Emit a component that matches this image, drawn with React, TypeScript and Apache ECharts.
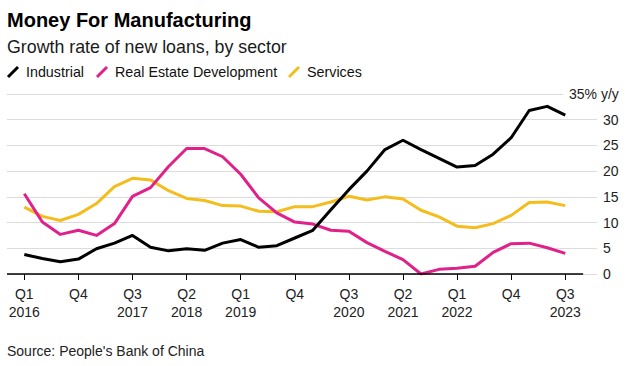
import React, { useEffect, useRef } from "react";
import * as echarts from "echarts";

const quarters = [
  "Q1 2016","Q2 2016","Q3 2016","Q4 2016","Q1 2017","Q2 2017","Q3 2017","Q4 2017",
  "Q1 2018","Q2 2018","Q3 2018","Q4 2018","Q1 2019","Q2 2019","Q3 2019","Q4 2019",
  "Q1 2020","Q2 2020","Q3 2020","Q4 2020","Q1 2021","Q2 2021","Q3 2021","Q4 2021",
  "Q1 2022","Q2 2022","Q3 2022","Q4 2022","Q1 2023","Q2 2023","Q3 2023",
];

const industrial = [3.8,3.0,2.4,2.9,4.9,6.0,7.5,5.2,4.5,4.9,4.6,6.0,6.7,5.2,5.5,7.0,8.5,12.5,16.4,20.0,24.2,26.0,24.2,22.5,20.8,21.1,23.3,26.5,31.8,32.6,30.9];
const realEstate = [15.6,10.1,7.7,8.5,7.5,9.8,15.1,16.8,20.9,24.4,24.4,22.8,19.4,14.8,11.9,10.1,9.7,8.5,8.3,6.1,4.4,2.8,0.0,0.9,1.1,1.5,4.2,5.9,6.0,5.1,4.0];
const services = [13.0,11.2,10.4,11.6,13.7,17.0,18.6,18.3,16.2,14.7,14.3,13.3,13.2,12.2,12.1,13.1,13.1,14.0,15.1,14.4,15.0,14.6,12.4,11.1,9.3,9.0,9.8,11.4,13.9,14.0,13.3];

const tickIndices = [0, 3, 6, 9, 12, 15, 18, 21, 24, 27, 30];
const tickLabels = ["Q1\n2016","Q4","Q3\n2017","Q2\n2018","Q1\n2019","Q4","Q3\n2020","Q2\n2021","Q1\n2022","Q4","Q3\n2023"];
const yTicks = [0, 5, 10, 15, 20, 25, 30, 35];

const seriesNames = ["Industrial", "Real Estate Development", "Services"];
const seriesColors = ["#000000", "#e0218a", "#f4bd1e"];

const FONT = "'Liberation Sans', Arial, Helvetica, sans-serif";

export default function App() {
  const ref = useRef<HTMLDivElement>(null);
  useEffect(() => {
    if (!ref.current) return;
    const chart = echarts.init(ref.current, undefined, { renderer: "svg" });
    const toPairs = (arr: number[]) => arr.map((v, i) => [i, v]);
    const allSeries = [industrial, realEstate, services];

    const legendX = [[7, 26], [96, 115], [288, 307]];
    const legendGraphics: any[] = [];
    seriesNames.forEach((n, k) => {
      const [lx, tx] = legendX[k];
      legendGraphics.push({
        type: "line",
        shape: { x1: lx + 1, y1: 77, x2: lx + 11, y2: 67 },
        style: { stroke: seriesColors[k], lineWidth: 3 },
      });
      legendGraphics.push({
        type: "text",
        x: tx,
        y: 72,
        style: { text: n, font: `14.3px ${FONT}`, fill: "#111", verticalAlign: "middle" },
      });
    });

    chart.setOption({
      animation: false,
      backgroundColor: "#ffffff",
      grid: { left: 7, right: 36, top: 94, bottom: 92, containLabel: false },
      xAxis: {
        type: "value",
        min: -0.96,
        max: 31.76,
        axisLine: { show: false },
        splitLine: { show: false },
        axisTick: {
          show: true,
          customValues: tickIndices,
          length: 6,
          lineStyle: { color: "#000", width: 1 },
        },
        axisLabel: {
          customValues: tickIndices,
          formatter: (v: number) => tickLabels[tickIndices.indexOf(Math.round(v))] ?? "",
          fontFamily: FONT,
          fontSize: 14,
          lineHeight: 18,
          color: "#222",
          margin: 11,
          align: "center",
        },
      },
      yAxis: {
        type: "value",
        position: "right",
        min: 0,
        max: 35,
        interval: 5,
        axisLine: { show: false },
        axisTick: { show: false },
        splitLine: { show: true, lineStyle: { color: "#dcdcdc", width: 1 } },
        axisLabel: {
          formatter: (v: number) => (v === 35 ? "" : String(v)),
          fontFamily: FONT,
          fontSize: 14,
          color: "#222",
          margin: 6,
          align: "left",
        },
      },
      series: allSeries.map((arr, k) => ({
        name: seriesNames[k],
        type: "line",
        data: toPairs(arr),
        showSymbol: false,
        symbol: "none",
        lineStyle: { color: seriesColors[k], width: 3, join: "round" },
        itemStyle: { color: seriesColors[k] },
        z: 3 + (k === 0 ? 2 : k === 1 ? 1 : 0),
        markLine:
          k === 0
            ? {
                silent: true,
                symbol: "none",
                label: { show: false },
                lineStyle: { color: "#000", width: 1.5, type: "solid" },
                data: [[{ coord: [-0.96, 0] }, { coord: [30.99, 0] }]],
              }
            : undefined,
      })),
      graphic: [
        {
          type: "text",
          left: 7,
          top: 10,
          style: { text: "Money For Manufacturing", font: `bold 20px ${FONT}`, fill: "#000" },
        },
        {
          type: "text",
          x: 7,
          y: 46.5,
          style: { text: "Growth rate of new loans, by sector", font: `17.8px ${FONT}`, fill: "#1a1a1a", verticalAlign: "middle" },
        },
        ...legendGraphics,
        {
          type: "rect",
          shape: { x: 563, y: 91, width: 40, height: 6 },
          style: { fill: "#ffffff" },
          z: 100,
        },
        {
          type: "text",
          x: 569,
          y: 94,
          z: 101,
          style: { text: "35% y/y", font: `14px ${FONT}`, fill: "#222", verticalAlign: "middle" },
        },
        {
          type: "text",
          x: 7,
          y: 350.5,
          style: { text: "Source: People's Bank of China", font: `14px ${FONT}`, fill: "#222", verticalAlign: "middle" },
        },
      ],
    });
    return () => chart.dispose();
  }, []);
  return <div ref={ref} style={{ width: 633, height: 366, position: "absolute", left: 0, top: 0 }} />;
}
